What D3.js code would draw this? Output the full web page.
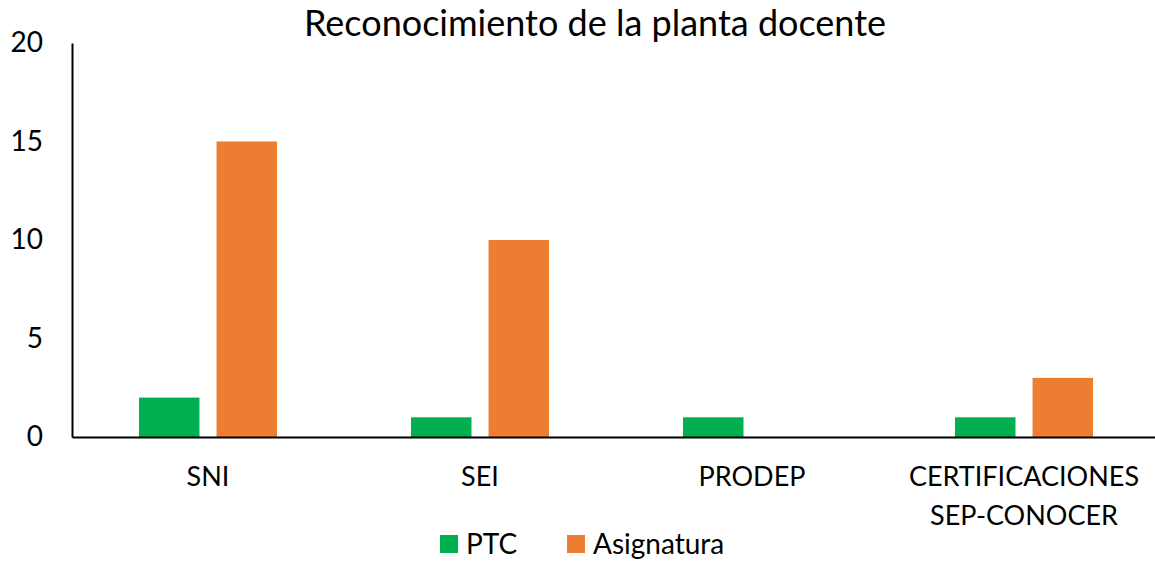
<!DOCTYPE html>
<html>
<head>
<meta charset="utf-8">
<script src="https://cdn.jsdelivr.net/npm/d3@7"></script>
<style>
  body { margin: 0; background: #fff; }
  svg { display: block; font-family: Lato, "Open Sans", sans-serif; }
</style>
</head>
<body>
<div id="chart"></div>
<script>
// data
const categories = ["SNI", "SEI", "PRODEP", "CERTIFICACIONES\nSEP-CONOCER"];
const seriesNames = ["PTC", "Asignatura"];
const ptcValues = [2, 1, 1, 1];
const asignaturaValues = [15, 10, 0, 3];
const yTicks = [0, 5, 10, 15, 20];
const colors = ["#00B050", "#ED7D31"];

const width = 1155, height = 562;
const marginLeft = 72, marginTop = 43, marginBottom = 125;
const plotRight = 1160;

const rows = categories.map((c, i) => ({cat: c, values: [ptcValues[i], asignaturaValues[i]]}));

const x0 = d3.scaleBand(categories, [marginLeft, plotRight]);
const x1 = d3.scaleBand(seriesNames, [67, x0.bandwidth() - 67]).paddingInner(0.22);
const y = d3.scaleLinear([0, 20], [height - marginBottom, marginTop]);

const svg = d3.select("#chart").append("svg")
    .attr("width", width)
    .attr("height", height)
    .attr("viewBox", [0, 0, width, height]);

// title
svg.append("text")
    .attr("x", 595)
    .attr("y", 36)
    .attr("text-anchor", "middle")
    .attr("font-size", 36)
    .attr("fill", "#000")
    .text("Reconocimiento de la planta docente");

// bars
svg.append("g")
  .selectAll("g")
  .data(rows)
  .join("g")
    .attr("transform", d => `translate(${x0(d.cat)},0)`)
  .selectAll("rect")
  .data(d => d.values.map((v, j) => ({key: seriesNames[j], value: v, j})))
  .join("rect")
    .attr("x", d => x1(d.key))
    .attr("y", d => y(d.value))
    .attr("width", x1.bandwidth())
    .attr("height", d => y(0) - y(d.value))
    .attr("fill", d => colors[d.j]);

// y axis
const yAxis = d3.axisLeft(y).tickValues(yTicks).tickSize(0).tickPadding(29);
svg.append("g")
    .attr("transform", `translate(${marginLeft},0)`)
    .call(yAxis)
    .call(g => g.select(".domain").attr("stroke", "#000").attr("stroke-width", 2))
    .call(g => g.selectAll("text").attr("font-size", 28).attr("fill", "#000")
        .attr("font-family", "Lato, 'Open Sans', sans-serif"));

// x axis
const xAxis = d3.axisBottom(x0).tickSize(0).tickPadding(30).tickSizeOuter(0);
svg.append("g")
    .attr("transform", `translate(0,${y(0)})`)
    .call(xAxis)
    .call(g => g.select(".domain").attr("stroke", "#000").attr("stroke-width", 2))
    .call(g => g.selectAll(".tick text")
        .attr("font-size", 27)
        .attr("fill", "#000")
        .attr("font-family", "Lato, 'Open Sans', sans-serif")
        .each(function(d) {
          const t = d3.select(this);
          const lines = d.split("\n");
          t.text(null);
          lines.forEach((ln, k) => {
            t.append("tspan")
              .attr("x", 0)
              .attr("dy", k === 0 ? "0.71em" : "1.45em")
              .text(ln);
          });
        }));

// legend
const legendItems = [{name: seriesNames[0], x: 440}, {name: seriesNames[1], x: 567}];
const legend = svg.append("g")
  .selectAll("g")
  .data(legendItems)
  .join("g")
    .attr("transform", d => `translate(${d.x},535)`);
legend.append("rect")
    .attr("width", 18)
    .attr("height", 18)
    .attr("fill", (d, i) => colors[i]);
legend.append("text")
    .attr("x", 26)
    .attr("y", 9)
    .attr("dy", "0.35em")
    .attr("font-size", 28)
    .attr("fill", "#000")
    .text(d => d.name);
</script>
</body>
</html>
